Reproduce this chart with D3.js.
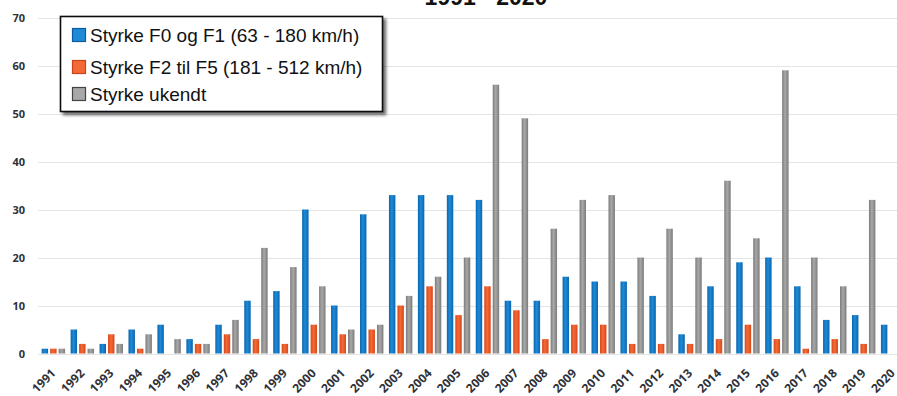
<!DOCTYPE html>
<html>
<head>
<meta charset="utf-8">
<script src="https://cdn.jsdelivr.net/npm/d3@7/dist/d3.min.js"></script>
<style>
  html, body { margin: 0; padding: 0; background: #fff; }
  svg { display: block; }
</style>
</head>
<body>
<svg id="chart" width="897" height="396"></svg>
<script>
// Tornado counts per year, by Fujita strength class
const years = ["1991","1992","1993","1994","1995","1996","1997","1998","1999","2000",
               "2001","2002","2003","2004","2005","2006","2007","2008","2009","2010",
               "2011","2012","2013","2014","2015","2016","2017","2018","2019","2020"];
const weak    = [1,5,2,5,6,3,6,11,13,30, 10,29,33,33,33,32,11,11,16,15, 15,12,4,14,19,20,14,7,8,6];
const strong  = [1,2,4,1,0,2,4,3,2,6, 4,5,10,14,8,14,9,3,6,6, 2,2,2,3,6,3,1,3,2,0];
const unknown = [1,1,2,4,3,2,7,22,18,14, 5,6,12,16,20,56,49,26,32,33, 20,26,20,36,24,59,20,14,32,0];
const seriesNames = ["Styrke F0 og F1 (63 - 180 km/h)", "Styrke F2 til F5 (181 - 512 km/h)", "Styrke ukendt"];
const yTicks = [0,10,20,30,40,50,60,70];
const title = "1991 - 2020";

const series = [weak, strong, unknown];
const colors = [
  { dark: "#0b66ad", mid: "#1e8ad8", border: "#0b5c9c" },
  { dark: "#d8471a", mid: "#f46a36", border: "#c9441a" },
  { dark: "#7b7b7b", mid: "#a8a8a8", border: "#444444" }
];

const svg = d3.select("#chart");
const defs = svg.append("defs");

colors.forEach((c, i) => {
  const g = defs.append("linearGradient").attr("id", "bar" + i)
    .attr("x1", "0%").attr("x2", "100%").attr("y1", "0%").attr("y2", "0%");
  g.append("stop").attr("offset", "0%").attr("stop-color", c.dark);
  g.append("stop").attr("offset", "45%").attr("stop-color", c.mid);
  g.append("stop").attr("offset", "100%").attr("stop-color", c.dark);
});

const shadow = defs.append("filter").attr("id", "shadow")
  .attr("x", "-10%").attr("y", "-10%").attr("width", "130%").attr("height", "140%");
shadow.append("feGaussianBlur").attr("in", "SourceAlpha").attr("stdDeviation", 1.6).attr("result", "b");
shadow.append("feOffset").attr("in", "b").attr("dx", 3).attr("dy", 3).attr("result", "o");
shadow.append("feComponentTransfer").attr("in", "o").attr("result", "s")
  .append("feFuncA").attr("type", "linear").attr("slope", 0.55);
const merge = shadow.append("feMerge");
merge.append("feMergeNode").attr("in", "s");
merge.append("feMergeNode").attr("in", "SourceGraphic");

const y = d3.scaleLinear().domain([0, 70]).range([353.5, 17.5]);
const x = d3.scaleBand().domain(years).range([38.9, 907.1]).paddingInner(0.191).paddingOuter(0.0955);
const xs = d3.scaleBand().domain([0, 1, 2]).range([0, x.bandwidth()]).paddingInner(0.24);

// Horizontal gridlines
svg.append("g").selectAll("line").data(yTicks).join("line")
  .attr("x1", 38).attr("x2", 897)
  .attr("y1", d => Math.round(y(d)) + 0.5).attr("y2", d => Math.round(y(d)) + 0.5)
  .attr("stroke", "#e4e4e4").attr("stroke-width", 1);

// Y axis labels
const yAxis = svg.append("g").attr("transform", "translate(25,0)")
  .call(d3.axisLeft(y).tickValues(yTicks).tickSize(0).tickPadding(0));
yAxis.select(".domain").remove();
yAxis.selectAll("text")
  .attr("font-family", "'Open Sans', sans-serif").attr("font-weight", 700)
  .attr("font-size", 11).attr("fill", "#2e3138");

// Bars
const groups = svg.append("g").selectAll("g").data(years).join("g")
  .attr("transform", d => `translate(${x(d)},0)`);
groups.selectAll("rect").data((d, i) => series.map((s, k) => ({ k, v: s[i] })).filter(e => e.v > 0))
  .join("rect")
  .attr("x", d => xs(d.k))
  .attr("width", xs.bandwidth())
  .attr("y", d => y(d.v))
  .attr("height", d => y(0) - y(d.v))
  .attr("fill", d => `url(#bar${d.k})`);

// X axis labels, rotated
const xAxis = svg.append("g").attr("transform", "translate(0,360)")
  .call(d3.axisBottom(x).tickSize(0).tickPadding(0));
xAxis.select(".domain").remove();
xAxis.selectAll("text")
  .attr("font-family", "'Open Sans', sans-serif").attr("font-weight", 700)
  .attr("font-size", 12).attr("fill", "#2e3138")
  .attr("text-anchor", "end")
  .attr("dy", 0)
  .attr("transform", "translate(3,14) rotate(-45)");

// Title, partially above the top edge
svg.append("text").attr("x", 486).attr("y", 5)
  .attr("text-anchor", "middle")
  .attr("font-family", "'Liberation Sans', Arial, sans-serif").attr("font-weight", 700)
  .attr("font-size", 23).attr("fill", "#111")
  .text(title);

// Legend
const legend = svg.append("g");
legend.append("rect").attr("x", 60.5).attr("y", 16.5).attr("width", 322).attr("height", 95)
  .attr("fill", "#fff").attr("stroke", "#111").attr("stroke-width", 1.6)
  .attr("filter", "url(#shadow)");
const rowY = [35, 67, 94];
seriesNames.forEach((name, i) => {
  legend.append("rect").attr("x", 72.5).attr("y", rowY[i] - 6.5).attr("width", 13).attr("height", 13)
    .attr("fill", colors[i].mid).attr("stroke", colors[i].border).attr("stroke-width", 1.2);
  legend.append("text").attr("x", 90).attr("y", rowY[i]).attr("dy", "0.36em")
    .attr("font-family", "'Liberation Sans', Arial, sans-serif").attr("font-size", 19).attr("fill", "#111")
    .text(name);
});
</script>
</body>
</html>
